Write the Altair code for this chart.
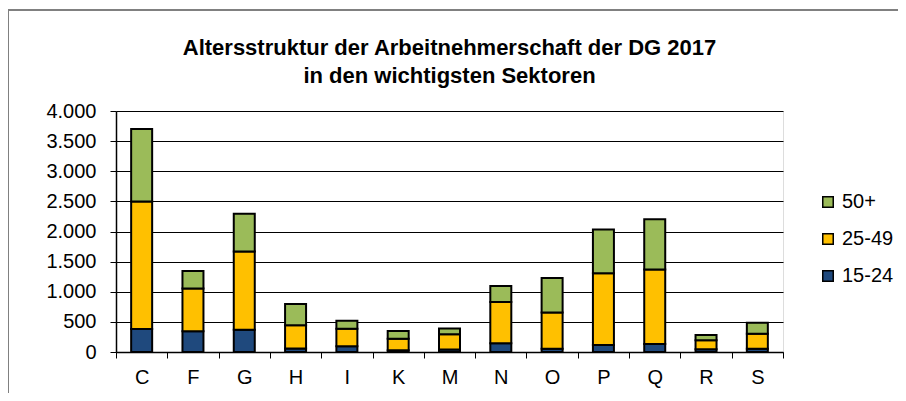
import altair as alt
import pandas as pd

sectors = ["C", "F", "G", "H", "I", "K", "M", "N", "O", "P", "Q", "R", "S"]
age_15_24 = [380, 343, 370, 60, 94, 28, 40, 144, 55, 116, 133, 45, 55]
age_25_49 = [2120, 712, 1299, 382, 293, 193, 253, 685, 600, 1193, 1237, 148, 249]
age_50_plus = [1200, 288, 624, 354, 132, 127, 99, 265, 575, 724, 834, 89, 182]
groups = ["15-24", "25-49", "50+"]
legend_order = ["50+", "25-49", "15-24"]
legend_colors = ["#9BBB59", "#FFC000", "#1F497D"]
y_ticks = [0, 500, 1000, 1500, 2000, 2500, 3000, 3500, 4000]

rows = []
for i, s in enumerate(sectors):
    for k, (g, vals) in enumerate(zip(groups, [age_15_24, age_25_49, age_50_plus])):
        rows.append({"Sektor": s, "Gruppe": g, "Wert": vals[i], "ord": k})
df = pd.DataFrame(rows)

FONT = "Liberation Sans"

bars = alt.Chart(df).mark_bar(width=21, stroke="black", strokeWidth=2).encode(
    x=alt.X("Sektor:N", sort=sectors, title=None,
            scale=alt.Scale(paddingInner=0, paddingOuter=0),
            axis=alt.Axis(labelAngle=0, tickBand="extent", tickSize=6,
                          labelPadding=9, labelFontSize=20, labelFont=FONT,
                          labelColor="black", domainColor="black", tickColor="black",
                          domainWidth=1.5, grid=False)),
    y=alt.Y("Wert:Q", stack="zero", title=None,
            scale=alt.Scale(domain=[0, 4000], nice=False),
            axis=alt.Axis(values=y_ticks, tickSize=6, labelPadding=14,
                          labelFontSize=20, labelFont=FONT, labelColor="black",
                          labelExpr="replace(format(datum.value, ',.0f'), ',', '.')",
                          domainColor="black", domainWidth=1.5, tickColor="black",
                          gridColor="black", gridWidth=1, gridOpacity=1)),
    color=alt.Color("Gruppe:N",
                    scale=alt.Scale(domain=legend_order, range=legend_colors),
                    legend=alt.Legend(title=None, orient="none", legendX=702, legendY=81,
                                      symbolType="square", symbolSize=110,
                                      symbolStrokeColor="black", symbolStrokeWidth=1.5,
                                      labelFontSize=20, labelFont=FONT, labelColor="black",
                                      labelOffset=4, rowPadding=17, symbolOpacity=1)),
    order=alt.Order("ord:Q"),
)

frame = alt.Chart(alt.Data(values=[{"a": 1}])).mark_rect(
    fill=None, stroke="#808080", strokeWidth=2, clip=False
).encode(
    x=alt.value(-108), x2=alt.value(900), y=alt.value(-101), y2=alt.value(400)
)

chart = alt.layer(frame, bars).properties(
    width=667, height=241,
    title=alt.TitleParams(
        text=["Altersstruktur der Arbeitnehmerschaft der DG 2017",
              "in den wichtigsten Sektoren"],
        font=FONT, fontSize=22, fontWeight="bold", color="black",
        anchor="middle", frame="group", lineHeight=28, offset=-79),
    padding={"left": 108, "top": 103, "right": 115, "bottom": 41},
    autosize=alt.AutoSizeParams(type="none"),
).configure_view(stroke="#999999", strokeWidth=2).configure(background="white")

chart.save("out.html", embed_options={"renderer": "svg", "actions": False})
